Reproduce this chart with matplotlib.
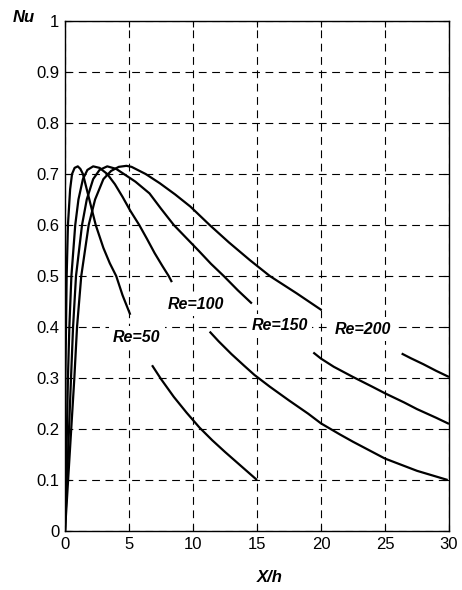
#!/usr/bin/env python3
import numpy as np
import matplotlib
matplotlib.use("Agg")
import matplotlib.pyplot as plt

nan = np.nan

# curves (nan = break in the line)
re50_x = [0, 0.03, 0.08, 0.13, 0.23, 0.4, 0.55, 0.75, 1.0, 1.2, 1.4, 1.6, 1.9, 2.4, 3.0, 3.5, 4.0, 4.5, 5.1,
          nan, 6.8, 7.5, 8.5, 9.5, 10.5, 11.5, 12.5, 13.5, 15.0]
re50_y = [0, 0.30, 0.40, 0.50, 0.60, 0.67, 0.70, 0.712, 0.715, 0.71, 0.70, 0.68, 0.65, 0.60, 0.555, 0.525, 0.50, 0.462, 0.424,
          nan, 0.325, 0.298, 0.263, 0.232, 0.203, 0.178, 0.155, 0.133, 0.10]

re100_x = [0, 0.23, 0.34, 0.5, 0.8, 1.05, 1.4, 1.75, 2.2, 2.7, 3.3, 3.9, 4.5, 5.1, 5.8, 6.4, 7.0, 7.6, 8.1, 8.35,
           nan, 11.3, 12.0, 13.0, 14.0, 14.8, 16.0, 17.5, 19.0, 20.0, 21.5, 22.5, 25.0, 27.5, 29.9]
re100_y = [0, 0.30, 0.40, 0.50, 0.60, 0.65, 0.69, 0.708, 0.715, 0.712, 0.70, 0.68, 0.655, 0.628, 0.60, 0.573, 0.545, 0.52, 0.50, 0.488,
           nan, 0.391, 0.372, 0.347, 0.324, 0.306, 0.283, 0.256, 0.23, 0.211, 0.189, 0.175, 0.142, 0.118, 0.10]

re150_x = [0, 0.47, 0.63, 0.86, 1.33, 1.7, 2.2, 2.7, 3.3, 4.0, 4.6, 5.5, 6.6, 7.5, 8.5, 9.5, 10.5, 11.4, 12.4, 13.5, 14.6,
           nan, 19.4, 20.0, 21.0, 22.5, 24.0, 25.0, 26.5, 27.5, 29.0, 30.0]
re150_y = [0, 0.30, 0.40, 0.50, 0.60, 0.65, 0.69, 0.708, 0.715, 0.71, 0.70, 0.685, 0.662, 0.632, 0.60, 0.574, 0.548, 0.524, 0.50, 0.472, 0.446,
           nan, 0.350, 0.338, 0.322, 0.302, 0.283, 0.270, 0.252, 0.239, 0.222, 0.210]

re200_x = [0, 0.73, 0.94, 1.27, 1.85, 2.35, 3.0, 3.6, 4.2, 4.8, 5.2, 6.3, 7.4, 8.6, 9.8, 11.3, 12.8, 14.45, 16.0, 18.1, 20.05,
           nan, 26.3, 27.0, 28.0, 29.0, 30.0]
re200_y = [0, 0.30, 0.40, 0.50, 0.60, 0.65, 0.69, 0.706, 0.714, 0.716, 0.714, 0.70, 0.682, 0.66, 0.636, 0.60, 0.566, 0.531, 0.50, 0.466, 0.433,
           nan, 0.348, 0.339, 0.327, 0.314, 0.302]

curves = [(re50_x, re50_y), (re100_x, re100_y), (re150_x, re150_y), (re200_x, re200_y)]

labels = ["Re=50", "Re=100", "Re=150", "Re=200"]
label_x = [5.6, 10.2, 16.8, 23.3]
label_y = [0.38, 0.445, 0.402, 0.396]

xticks = [0, 5, 10, 15, 20, 25, 30]
yticks = [0, 0.1, 0.2, 0.3, 0.4, 0.5, 0.6, 0.7, 0.8, 0.9, 1]
ytick_labels = ["0", "0.1", "0.2", "0.3", "0.4", "0.5", "0.6", "0.7", "0.8", "0.9", "1"]

plt.rcParams["font.family"] = ["Liberation Sans", "DejaVu Sans"]

fig = plt.figure(figsize=(4.62, 5.90), dpi=100)
ax = fig.add_axes([65 / 462, 59 / 590, 384 / 462, 510 / 590])

for x, y in curves:
    ax.plot(x, y, color="black", linewidth=1.6, solid_capstyle="butt",
            solid_joinstyle="round", zorder=3)

ax.set_xlim(0, 30)
ax.set_ylim(0, 1)
ax.set_xticks(xticks)
ax.set_yticks(yticks)
ax.set_yticklabels(ytick_labels)

ax.grid(True, color="black", linewidth=0.8, linestyle=(0, (7, 5)), zorder=1)
ax.tick_params(direction="in", length=4, width=0.8, top=True, right=True,
               labelsize=12, pad=4)
for sp in ax.spines.values():
    sp.set_linewidth(1.0)
    sp.set_zorder(5)

for t, lx, ly in zip(labels, label_x, label_y):
    ax.text(lx, ly, t, ha="center", va="center", fontsize=11.5,
            fontweight="bold", fontstyle="italic", zorder=4,
            bbox=dict(facecolor="white", edgecolor="none", pad=3))

fig.text(24 / 462, 1 - 17 / 590, "Nu", ha="center", va="center", fontsize=12,
         fontweight="bold", fontstyle="italic")
fig.text(270 / 462, 1 - 578 / 590, "X/h", ha="center", va="center", fontsize=12,
         fontweight="bold", fontstyle="italic")

fig.savefig("out.png", dpi=100, facecolor="white")
